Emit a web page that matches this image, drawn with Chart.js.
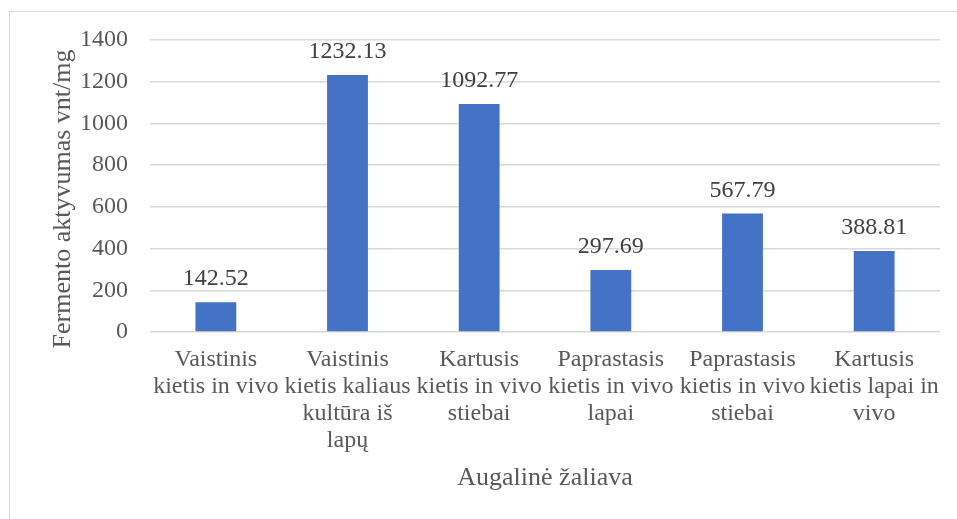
<!DOCTYPE html>
<html>
<head>
<meta charset="utf-8">
<script src="https://cdn.jsdelivr.net/npm/chart.js@4/dist/chart.umd.min.js"></script>
<style>
  html, body { margin: 0; padding: 0; background: #fff; }
  #wrap { position: relative; width: 957px; height: 519px; }
  #frame { position: absolute; left: 9px; top: 11px; right: 0; bottom: 0;
           border-top: 1px solid #d9d9d9; border-left: 1px solid #d9d9d9; }
  canvas { position: absolute; left: 0; top: 0; }
</style>
</head>
<body>
<div id="wrap">
  <div id="frame"></div>
  <canvas id="chart" width="957" height="519"></canvas>
</div>
<script>
// Duomenys
const categories = [
  ["Vaistinis", "kietis in vivo"],
  ["Vaistinis", "kietis kaliaus", "kultūra iš", "lapų"],
  ["Kartusis", "kietis in vivo", "stiebai"],
  ["Paprastasis", "kietis in vivo", "lapai"],
  ["Paprastasis", "kietis in vivo", "stiebai"],
  ["Kartusis", "kietis lapai in", "vivo"]
];
const values = [142.52, 1232.13, 1092.77, 297.69, 567.79, 388.81];
const yTicks = [0, 200, 400, 600, 800, 1000, 1200, 1400];
const yTitle = "Fermento aktyvumas vnt/mg";

const serif = "'Liberation Serif', 'Times New Roman', serif";
const gray = "#595959";

// Reikšmės virš stulpelių + Y ašies pavadinimas
const valueLabels = {
  id: "valueLabels",
  afterDatasetsDraw(chart) {
    const ctx = chart.ctx;
    const meta = chart.getDatasetMeta(0);
    ctx.save();
    ctx.font = "24px " + serif;
    ctx.fillStyle = "#404040";
    ctx.textAlign = "center";
    ctx.textBaseline = "alphabetic";
    meta.data.forEach((bar, i) => {
      ctx.fillText(values[i].toFixed(2), bar.x, bar.y - 17);
    });

    // pavadinimas šiek tiek žemiau nei ašies centras, kaip originale
    const area = chart.chartArea;
    ctx.translate(63, (area.top + area.bottom) / 2 + 13);
    ctx.rotate(-Math.PI / 2);
    ctx.font = "26px " + serif;
    ctx.fillStyle = gray;
    ctx.textBaseline = "middle";
    ctx.fillText(yTitle, 0, 0);
    ctx.restore();
  }
};

new Chart(document.getElementById("chart"), {
  type: "bar",
  data: {
    labels: categories,
    datasets: [{
      data: values,
      backgroundColor: "#4472C4",
      borderWidth: 0,
      barPercentage: 0.62,
      categoryPercentage: 0.5
    }]
  },
  options: {
    responsive: false,
    animation: false,
    layout: { padding: { left: 40, right: 17, top: 40, bottom: 20 } },
    plugins: {
      legend: { display: false },
      tooltip: { enabled: false }
    },
    scales: {
      y: {
        min: 0,
        max: 1400,
        afterBuildTicks: scale => { scale.ticks = yTicks.map(v => ({ value: v })); },
        afterFit: scale => { scale.width = 110; },
        grid: { color: "#d9d9d9", lineWidth: 1.5, drawTicks: false },
        border: { display: false },
        ticks: {
          padding: 22,
          color: gray,
          callback: v => String(v),
          font: { family: serif, size: 24 }
        }
      },
      x: {
        afterFit: scale => { scale.height = 167; },
        grid: { display: false, drawTicks: false },
        border: { display: false },
        ticks: {
          padding: 14,
          color: gray,
          maxRotation: 0,
          autoSkip: false,
          font: { family: serif, size: 24, lineHeight: 1.13 }
        },
        title: {
          display: true,
          text: "Augalinė žaliava",
          color: gray,
          font: { family: serif, size: 26 },
          padding: { top: 0, bottom: 5 }
        }
      }
    }
  },
  plugins: [valueLabels]
});
</script>
</body>
</html>
